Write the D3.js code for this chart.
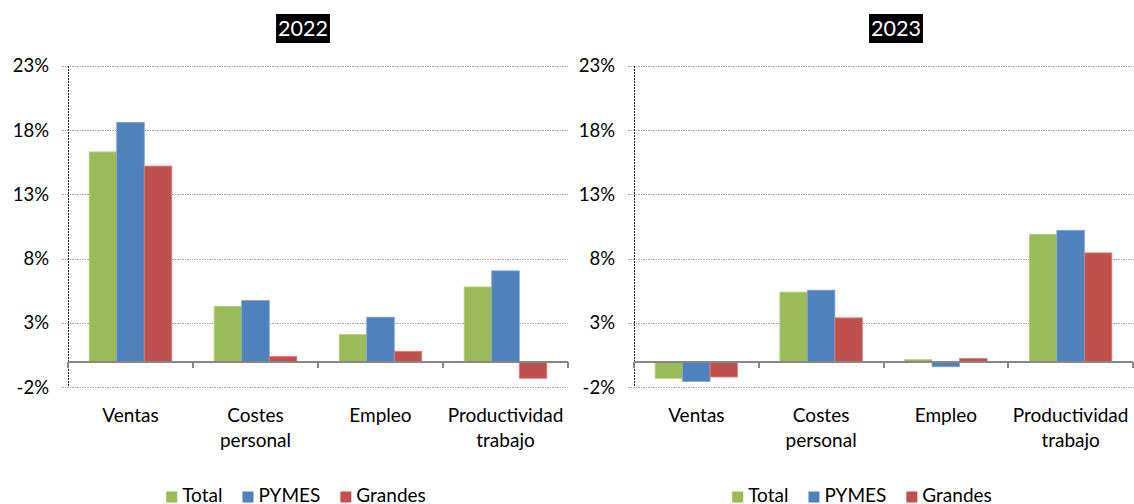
<!DOCTYPE html>
<html lang="es">
<head>
<meta charset="UTF-8">
<title>Ventas, costes, empleo y productividad</title>
<script src="https://d3js.org/d3.v7.min.js" charset="utf-8"></script>
<style>
  body { margin: 0; background: #fff; }
  text { font-family: Lato, "Open Sans", sans-serif; fill: #000; }
  .grid line { stroke: #a6a6a6; stroke-width: 1px; stroke-dasharray: 1.5,1; shape-rendering: crispEdges; }
  .yline { stroke: #222; stroke-width: 1px; stroke-dasharray: 2,1; shape-rendering: crispEdges; }
  .zero { stroke: #878787; stroke-width: 2px; shape-rendering: crispEdges; }
  .ytick { font-size: 18.5px; }
  .cat { font-size: 19px; }
  .leg { font-size: 19px; }
  .title { font-size: 21.5px; fill: #fff; }
</style>
</head>
<body>
<svg id="chart" width="1134" height="504"></svg>
<script>
  // data
  var categories = ["Ventas", "Costes personal", "Empleo", "Productividad trabajo"];
  var seriesNames = ["Total", "PYMES", "Grandes"];
  var colors = ["#9bbb59", "#4f81bd", "#c0504d"];
  var edgeColors = ["#b5cf86", "#7ea3d2", "#d88582"];
  var yTicks = [-2, 3, 8, 13, 18, 23];
  var years = ["2022", "2023"];

  var total2022 = [16.3, 4.3, 2.1, 5.8];
  var pymes2022 = [18.6, 4.75, 3.45, 7.05];
  var grandes2022 = [15.2, 0.4, 0.8, -1.3];

  var total2023 = [-1.3, 5.4, 0.15, 9.9];
  var pymes2023 = [-1.55, 5.55, -0.4, 10.2];
  var grandes2023 = [-1.2, 3.4, 0.25, 8.45];

  var panels = [
    { year: years[0], values: [total2022, pymes2022, grandes2022], left: 68, right: 568, titleX: 303, legendX: 296 },
    { year: years[1], values: [total2023, pymes2023, grandes2023], left: 634, right: 1133, titleX: 896, legendX: 862 }
  ];

  var svg = d3.select("#chart");

  var y = d3.scaleLinear()
    .domain([-2, 23])
    .range([387.3, 65.7]);

  panels.forEach(function(p) {
    var g = svg.append("g");

    var x0 = d3.scaleBand()
      .domain(categories)
      .range([p.left, p.right])
      .padding(0);

    var x1 = d3.scaleBand()
      .domain(seriesNames)
      .range([0, x0.bandwidth()])
      .paddingInner(0)
      .paddingOuter(0.77);

    // gridlines
    g.append("g").attr("class", "grid")
      .selectAll("line")
      .data(yTicks)
      .enter().append("line")
      .attr("x1", p.left - 6)
      .attr("x2", p.right)
      .attr("y1", function(d) { return Math.round(y(d)) + 0.5; })
      .attr("y2", function(d) { return Math.round(y(d)) + 0.5; });

    // y labels
    g.selectAll(".ytick")
      .data(yTicks)
      .enter().append("text")
      .attr("class", "ytick")
      .attr("x", p.left - 19)
      .attr("y", function(d) { return y(d) + 6.5; })
      .attr("text-anchor", "end")
      .text(function(d) { return d + "%"; });

    // vertical axis
    g.append("line").attr("class", "yline")
      .attr("x1", p.left + 0.5).attr("x2", p.left + 0.5)
      .attr("y1", y(23)).attr("y2", y(-2));

    // bars
    var rows = categories.map(function(c, i) {
      return seriesNames.map(function(s, j) {
        return { cat: c, series: s, idx: j, value: p.values[j][i] };
      });
    });

    g.selectAll(".group")
      .data(rows)
      .enter().append("g")
      .attr("class", "group")
      .attr("transform", function(d) { return "translate(" + x0(d[0].cat) + ",0)"; })
      .selectAll("rect")
      .data(function(d) { return d; })
      .enter().append("rect")
      .attr("x", function(d) { return x1(d.series); })
      .attr("width", x1.bandwidth())
      .attr("y", function(d) { return y(Math.max(0, d.value)); })
      .attr("height", function(d) { return Math.abs(y(d.value) - y(0)); })
      .style("fill", function(d) { return colors[d.idx]; })
      .style("stroke", function(d) { return edgeColors[d.idx]; })
      .style("stroke-width", 0.8);

    // zero line with category ticks
    var z = Math.round(y(0));
    g.append("line").attr("class", "zero")
      .attr("x1", p.left).attr("x2", p.right)
      .attr("y1", z).attr("y2", z);

    var bounds = categories.map(function(c) { return x0(c); }).concat([p.right]);
    g.selectAll(".ctick")
      .data(bounds)
      .enter().append("line")
      .attr("class", "zero")
      .attr("x1", function(d) { return Math.round(d); })
      .attr("x2", function(d) { return Math.round(d); })
      .attr("y1", z)
      .attr("y2", z + 6);

    // category labels
    var labels = g.selectAll(".cat")
      .data(categories)
      .enter().append("text")
      .attr("class", "cat")
      .attr("text-anchor", "middle")
      .attr("x", function(d) { return x0(d) + x0.bandwidth() / 2; })
      .attr("y", 421.7);

    labels.each(function(d) {
      var words = d.split(" ");
      var t = d3.select(this);
      words.forEach(function(w, k) {
        t.append("tspan")
          .attr("x", t.attr("x"))
          .attr("dy", k === 0 ? 0 : 25.5)
          .text(w);
      });
    });

    // title in black box
    var title = g.append("text")
      .attr("class", "title")
      .attr("x", p.titleX)
      .attr("y", 36)
      .attr("text-anchor", "middle")
      .text(p.year);
    var tw = title.node().getComputedTextLength();
    g.insert("rect", ".title")
      .attr("x", p.titleX - tw / 2 - 2)
      .attr("y", 14)
      .attr("width", tw + 4)
      .attr("height", 29)
      .style("fill", "#000");

    // legend
    var leg = g.append("g");
    var lx = 0;
    seriesNames.forEach(function(s, j) {
      leg.append("rect")
        .attr("x", lx)
        .attr("y", 491.5)
        .attr("width", 11)
        .attr("height", 11)
        .style("fill", colors[j]);
      var t = leg.append("text")
        .attr("class", "leg")
        .attr("x", lx + 16)
        .attr("y", 502)
        .text(s);
      lx += 16 + t.node().getComputedTextLength() + 20;
    });
    var legW = lx - 20;
    leg.attr("transform", "translate(" + (p.legendX - legW / 2) + ",0)");
  });
</script>
</body>
</html>
